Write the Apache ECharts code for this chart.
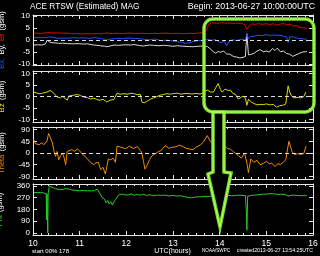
<!DOCTYPE html>
<html><head><meta charset="utf-8">
<script src="https://cdn.jsdelivr.net/npm/echarts@6/dist/echarts.min.js"></script>
<style>html,body{margin:0;padding:0;background:#000}#c{width:320px;height:256px}</style>
</head><body><div id="c"></div><script>
// x axis: minutes since 2013-06-27 10:00 UTC
const xTickLabels = ['10','11','12','13','14','15','16'];
const yTicksB = [-10,-5,0,5,10];
const yTicksTheta = [-90,-45,0,45,90];
const yTicksPhi = [0,90,180,270,360];

// Bt (red)
const btTime = [1,5,10,14,20,25,31,38,44,50,56,62,68,75,82,88,95,102,108,116,125,133,140,148,155,163,170,178,186,193,200,207,213,219,222,224,226,230,236,242,248,254,258,263,268,272,275,278,281,286,290,295,300,304,309,313,318,322,326,330,335,339,343,347,352];
const btValue = [2.8,2.9,2.7,2.9,3.1,2.9,3.0,2.8,2.9,2.6,2.7,2.5,2.6,2.5,2.7,2.6,2.9,2.7,2.8,2.7,2.9,2.7,2.8,2.6,2.8,2.7,2.9,2.7,2.8,2.6,2.8,2.7,2.9,3.1,3.5,5.0,6.6,7.2,6.9,7.2,7.0,7.1,6.8,7.0,6.9,6.5,4.4,6.0,6.7,6.5,6.9,6.4,6.9,6.3,6.8,6.2,6.6,6.9,6.4,6.6,5.8,6.0,5.3,5.1,4.9];
// Bx (blue)
const bxTime = [1,5,10,16,22,28,31,38,44,52,58,65,72,80,87,92,95,100,108,115,122,130,138,142,150,157,164,172,180,185,191,196,200,206,213,219,224,230,234,238,242,246,249,252,256,262,266,270,273,275,276,277,280,285,290,294,300,305,309,314,318,322,326,328,330,334,338,343,347,352];
const bxValue = [1.1,1.0,0.9,1.1,1.3,1.0,0.7,0.8,0.7,1.0,0.8,0.9,0.7,1.0,0.6,0.3,0.0,0.4,0.7,0.6,0.8,0.7,0.5,0.3,0.1,0.4,-0.2,-0.1,-0.4,-0.7,-0.9,-1.4,-1.2,-0.6,-0.3,0.0,0.3,-0.1,0.2,-0.5,-1.2,-0.4,-2.4,-0.6,0.1,-0.2,0.2,0.3,0.0,2.6,2.7,0.5,1.4,1.6,2.0,1.8,2.2,1.9,2.1,1.9,2.0,1.6,1.3,-1.1,1.2,1.4,0.9,0.6,0.5,0.3];
// By (white)
const byTime = [1,6,12,16,18,20,23,28,33,38,44,52,58,65,70,76,82,87,92,95,99,104,110,118,125,130,137,142,150,155,162,168,172,180,186,190,198,206,212,219,224,228,232,235,238,241,245,249,253,258,262,266,270,273,275,276,277,280,284,288,292,296,300,304,308,311,314,318,322,326,330,334,338,343,347,352];
const byValue = [-2.1,-2.0,-2.1,-1.6,-0.1,-0.9,-1.1,-1.2,-1.4,-1.3,-1.5,-1.6,-1.5,-1.7,-1.6,-2.0,-2.2,-2.4,-2.6,-2.8,-2.5,-2.1,-2.2,-2.0,-2.1,-1.9,-2.3,-2.5,-2.1,-2.2,-2.4,-2.2,-2.3,-2.6,-2.4,-2.5,-2.7,-2.8,-2.6,-2.5,-2.7,-3.7,-4.9,-5.5,-4.8,-5.1,-4.6,-5.8,-5.9,-6.9,-7.1,-7.5,-7.2,-6.9,2.6,2.4,-6.2,-6.0,-5.6,-4.6,-4.0,-4.9,-4.6,-5.0,-3.5,-4.4,-3.4,-4.9,-4.6,-5.6,-5.9,-6.8,-6.2,-5.5,-5.0,-4.8];
// Bz (yellow)
const bzTime = [1,3,5,8,11,14,18,22,25,27,31,33,35,38,40,44,46,48,53,57,61,65,70,74,78,82,86,90,95,99,104,106,108,112,117,121,126,129,134,138,140,143,146,151,155,159,164,168,172,177,181,186,190,194,198,204,210,215,219,224,228,232,235,238,241,243,247,249,251,254,257,260,262,264,266,270,273,275,277,279,281,284,288,292,296,300,305,309,313,317,322,325,327,328,330,332,335,340,344,348,351];
const bzValue = [1.9,1.4,1.5,1.2,1.3,1.6,1.9,2.6,2.0,1.4,-0.2,0.2,-0.6,0.1,-0.3,-1.6,0.2,0.3,0.6,0.9,0.4,-0.2,-0.5,-1.1,-0.7,-1.3,-1.6,-1.2,-2.4,-1.6,-1.3,-1.1,1.4,1.0,1.2,1.0,1.4,1.3,0.8,0.9,-2.4,-2.7,-2.2,-1.1,-0.6,-0.1,0.6,0.9,1.2,1.0,1.3,1.4,1.0,1.2,1.3,1.1,1.3,1.1,1.5,2.8,2.0,1.9,3.8,5.6,3.0,1.9,3.2,3.6,2.6,2.7,1.3,1.0,0.7,-1.1,-0.3,0.2,-0.6,-3.8,-1.2,-1.5,-2.5,-3.0,-3.6,-3.4,-3.5,-3.2,-3.6,-3.4,-4.6,-4.0,-3.7,-3.2,-2.5,4.6,2.0,0.5,-0.6,-0.4,-0.6,-0.1,2.0];
// Theta (orange)
const thetaTime = [1,3,5,8,11,14,16,18,20,22,25,27,29,31,33,35,38,40,42,44,46,50,53,57,60,63,67,70,74,78,81,84,87,90,93,95,97,100,103,106,108,112,116,119,124,129,134,138,140,142,144,147,150,153,157,160,164,170,175,179,184,188,192,196,201,206,210,215,219,224,228,232,236,241,246,250,254,257,260,264,268,272,275,277,280,284,288,292,296,300,304,307,311,315,318,322,325,327,329,331,333,336,340,344,348,351];
const thetaValue = [51,36,34,32,39,32,36,46,75,68,39,6,-13,6,-26,-13,0,-19,-45,6,13,13,6,15,8,-3,-13,-23,-36,-45,-38,-36,-64,-55,-81,-51,-23,-26,-20,-36,26,23,19,17,26,17,25,10,0,-32,-62,-45,-25,-10,-3,3,8,28,18,22,24,30,26,19,15,13,23,31,42,67,45,38,30,23,28,17,15,6,0,-10,-19,0,-39,-75,-23,-36,-28,-45,-40,-32,-42,-39,-52,-41,-45,-35,-26,-32,45,25,6,-6,-3,-5,-3,26];
// Phi (green)
const phiTime = [1,5,10,14,16,17,17.5,18,19,19.5,21,23,26,29,31,35,39,42,44,47,50,55,60,65,70,75,79,81,83,85,87,89,92,94,96,98,100,102,104,106,108,110,114,118,122,126,130,134,138,142,146,150,155,160,165,170,175,180,185,190,195,200,204,208,212,216,220,225,230,235,240,245,250,255,260,265,270,273,274.5,275,275.5,276,280,285,290,295,300,305,308,312,316,320,324,326,328,330,334,338,342,346,350,352];
const phiValue = [311,309,310,306,303,300,100,300,2,300,358,355,347,338,334,332,334,340,343,335,330,326,324,325,323,322,325,338,335,312,290,270,260,232,250,222,240,214,238,256,252,290,298,293,290,300,288,295,290,297,288,292,286,290,288,290,283,287,283,285,278,272,270,274,278,276,281,278,285,283,286,284,288,285,287,290,287,285,150,22,35,280,288,290,293,297,298,302,300,298,295,297,294,280,283,292,290,288,286,285,287,286];

const FRAME = '#e6e6e6';
const zip = (t, v) => t.map((x, i) => [x, v[i]]);
const panels = [
  {top:15, height:50, range:[-10.4,10.4], ticks:yTicksB,
   name:'{bx|Bx,} {w|By,} {bt|Bt} {w|(gsm)}', zero:true},
  {top:71, height:51, range:[-11,11], ticks:yTicksB,
   name:'{bz|Bz} {w|(gsm)}', zero:true},
  {top:127, height:52, range:[-100,100], ticks:yTicksTheta,
   name:'{th|Theta} {w|(gsm)}', zero:true},
  {top:184, height:51, range:[-15,375], ticks:yTicksPhi,
   name:'{ph|Phi} {w|(gsm)}', zero:false}
];
const nameRich = {
  w:{color:'#ffffff', fontSize:7.5, fontFamily:'Liberation Sans'},
  bx:{color:'#2a4dff', fontSize:7.5, fontFamily:'Liberation Sans'},
  bt:{color:'#ff1a1a', fontSize:7.5, fontFamily:'Liberation Sans'},
  bz:{color:'#e6e600', fontSize:7.5, fontFamily:'Liberation Sans'},
  th:{color:'#f08c00', fontSize:7.5, fontFamily:'Liberation Sans'},
  ph:{color:'#1ee01e', fontSize:7.5, fontFamily:'Liberation Sans'}
};
const grid = [], xAxis = [], yAxis = [];
panels.forEach((p, i) => {
  grid.push({left:33, right:7, top:p.top, height:p.height, show:false,
    containLabel:false, outerBoundsMode:'none'});
  const tickCommon = {show:true, inside:true, length:4, lineStyle:{color:FRAME}};
  xAxis.push({
    type:'value', gridIndex:i, min:0, max:360, interval:60, position:'bottom',
    axisLine:{show:true, onZero:false, lineStyle:{color:FRAME, width:1}},
    axisTick:tickCommon,
    minorTick:{show:true, splitNumber:6, length:2, lineStyle:{color:FRAME}},
    splitLine:{show:false},
    axisLabel:{show:i === 3, color:'#fff', fontSize:8.5, fontFamily:'Liberation Sans', margin:4,
      formatter:v => xTickLabels[Math.round(v / 60)]}
  });
  xAxis.push({
    type:'value', gridIndex:i, min:0, max:360, interval:60, position:'top',
    axisLine:{show:true, onZero:false, lineStyle:{color:FRAME, width:1}},
    axisTick:tickCommon,
    minorTick:{show:true, splitNumber:6, length:2, lineStyle:{color:FRAME}},
    splitLine:{show:false}, axisLabel:{show:false}
  });
  yAxis.push({
    type:'value', gridIndex:i, min:p.range[0], max:p.range[1], position:'left',
    axisLine:{show:true, onZero:false, lineStyle:{color:FRAME, width:1}},
    axisTick:Object.assign({customValues:p.ticks}, tickCommon),
    splitLine:{show:false},
    axisLabel:{customValues:p.ticks, color:'#fff', fontSize:8, fontFamily:'Liberation Sans', margin:3},
    name:p.name, nameLocation:'middle', nameRotate:90, nameGap:22,
    nameTextStyle:{rich:nameRich}
  });
  yAxis.push({
    type:'value', gridIndex:i, min:p.range[0], max:p.range[1], position:'right',
    axisLine:{show:true, onZero:false, lineStyle:{color:FRAME, width:1}},
    axisTick:Object.assign({customValues:p.ticks}, tickCommon),
    splitLine:{show:false}, axisLabel:{show:false}
  });
});

const zeroLine = {
  silent:true, symbol:'none', label:{show:false},
  lineStyle:{color:'#dddddd', type:[4,3], width:1},
  data:[{yAxis:0}]
};
function line(name, data, color, panel, withZero) {
  const s = {
    name, type:'line', data, xAxisIndex:panel * 2, yAxisIndex:panel * 2,
    showSymbol:false, symbol:'none', lineStyle:{color, width:1}, itemStyle:{color},
    animation:false, silent:true
  };
  if (withZero) s.markLine = zeroLine;
  return s;
}
const series = [
  line('By', zip(byTime, byValue), '#d8d8d8', 0, true),
  line('Bx', zip(bxTime, bxValue), '#2a4dff', 0, false),
  line('Bt', zip(btTime, btValue), '#e00000', 0, false),
  line('Bz', zip(bzTime, bzValue), '#dcdc00', 1, true),
  line('Theta', zip(thetaTime, thetaValue), '#f08c00', 2, true),
  line('Phi', zip(phiTime, phiValue), '#1ed21e', 3, false)
];

const LIME = '#78dc30', LIME2 = '#c0ff70';
const arrowPts = [[213,112],[213,172],[208,174],[220,227],[231,173],[224,172],[224,112]];
const graphic = [
  {type:'text', x:30, y:7, style:{text:'ACE RTSW (Estimated) MAG', fill:'#fff', font:'8.3px Liberation Sans', textVerticalAlign:'middle'}},
  {type:'text', x:315, y:7, style:{text:'Begin: 2013-06-27 10:00:00UTC', fill:'#fff', font:'8.8px Liberation Sans', textAlign:'right', textVerticalAlign:'middle'}},
  {type:'text', x:32, y:251, style:{text:'start 00% 178', fill:'#fff', font:'6px Liberation Sans', textVerticalAlign:'middle'}},
  {type:'text', x:172.5, y:251, style:{text:'UTC(hours)', fill:'#fff', font:'7px Liberation Sans', textAlign:'center', textVerticalAlign:'middle'}},
  {type:'text', x:202, y:251, style:{text:'NOAA/SWPC', fill:'#fff', font:'4.6px Liberation Sans', textVerticalAlign:'middle'}},
  {type:'text', x:313, y:251, style:{text:'created2013-06-27 13:54:25UTC', fill:'#fff', font:'5.2px Liberation Sans', textAlign:'right', textVerticalAlign:'middle'}},
  {type:'rect', z:100, shape:{x:204, y:19, width:110, height:93, r:9}, style:{fill:null, stroke:LIME, lineWidth:3.5}},
  {type:'rect', z:101, shape:{x:204, y:19, width:110, height:93, r:9}, style:{fill:null, stroke:LIME2, lineWidth:1}},
  {type:'polygon', z:100, shape:{points:arrowPts}, style:{fill:'#000', stroke:LIME, lineWidth:3.5}},
  {type:'polygon', z:101, shape:{points:arrowPts}, style:{fill:null, stroke:LIME2, lineWidth:1}}
];

const chart = echarts.init(document.getElementById('c'), null, {renderer:'canvas'});
chart.setOption({
  backgroundColor:'#000', animation:false,
  grid, xAxis, yAxis, series, graphic
});
</script></body></html>
